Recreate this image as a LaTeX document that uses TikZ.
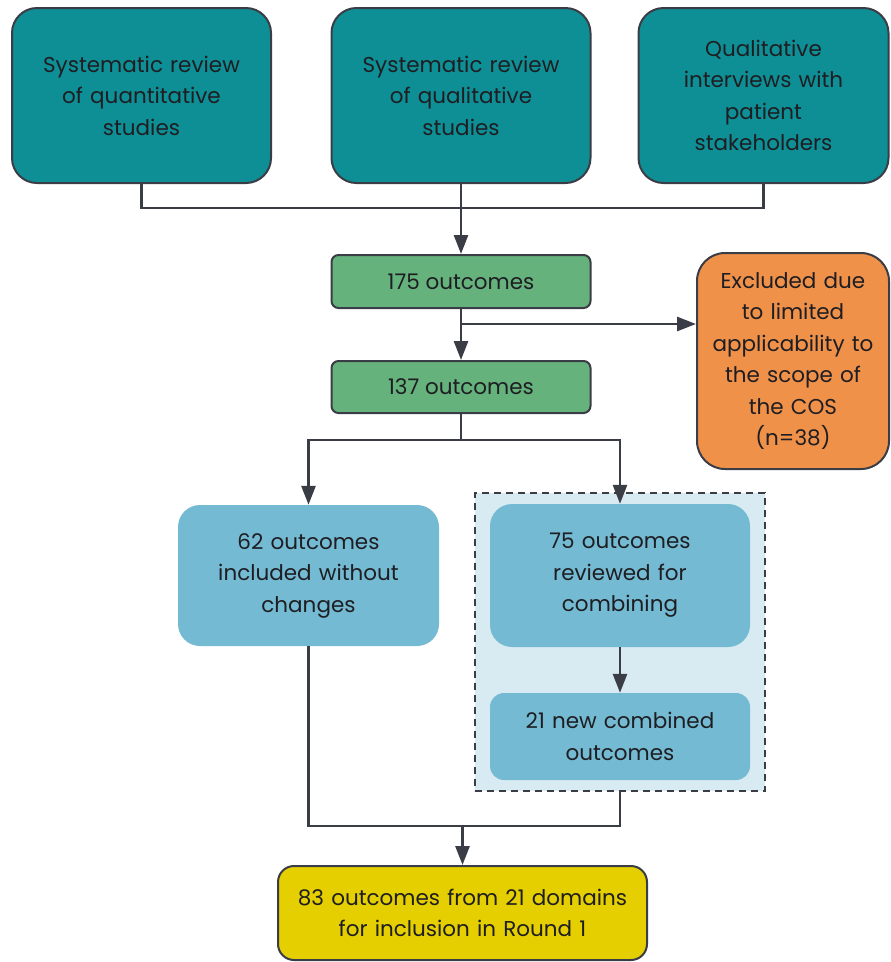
\documentclass[tikz,border=0pt]{standalone}
\usepackage{fontspec}
\setmainfont{Poppins}
\usetikzlibrary{arrows.meta}
\definecolor{edge}{HTML}{3A3D45}
\definecolor{teal}{HTML}{0E8F96}
\definecolor{leaf}{HTML}{66B27D}
\definecolor{peach}{HTML}{F0914A}
\definecolor{sky}{HTML}{74BAD3}
\definecolor{mist}{HTML}{D8EBF2}
\definecolor{gold}{HTML}{E5CF00}
\definecolor{ink}{HTML}{1E1E22}
\tikzset{
  box/.style={rectangle, align=center, inner sep=0pt, text=ink,
    font=\fontsize{21.5}{31.5}\selectfont},
  bordered/.style={box, draw=edge, line width=2pt},
  conn/.style={draw=edge, line width=2.8pt},
  arr/.style={conn, -{Triangle[length=19pt,width=14pt]}},
}
\begin{document}
\begin{tikzpicture}[x=1pt,y=-1pt]
\useasboundingbox (0,0) rectangle (891,962);
% source boxes
\node[bordered, fill=teal, rounded corners=25pt, minimum width=259pt, minimum height=175pt, text width=245pt]
  (t1) at (141.5,95.5) {Systematic review\\of quantitative\\studies};
\node[bordered, fill=teal, rounded corners=25pt, minimum width=259pt, minimum height=175pt, text width=245pt]
  (t2) at (461,95.5) {Systematic review\\of qualitative\\studies};
\node[bordered, fill=teal, rounded corners=25pt, minimum width=250pt, minimum height=175pt, text width=235pt]
  (t3) at (763.5,95.5) {Qualitative\\interviews with\\patient\\stakeholders};
% outcome counts
\node[bordered, fill=leaf, rounded corners=7pt, minimum width=259pt, minimum height=53pt]
  (n175) at (461,281.5) {175 outcomes};
\node[bordered, fill=leaf, rounded corners=7pt, minimum width=259pt, minimum height=52pt]
  (n137) at (461,387) {137 outcomes};
\node[bordered, fill=peach, rounded corners=28pt, minimum width=192pt, minimum height=216pt, text width=185pt]
  (excl) at (793,361) {Excluded due\\to limited\\applicability to\\the scope of\\the COS\\(n=38)};
% combining group
\node[draw=edge, fill=mist, dashed, line width=1.8pt, dash pattern=on 7pt off 5pt,
  minimum width=290pt, minimum height=298pt, inner sep=0pt] (grp) at (620,642) {};
\node[box, fill=sky, rounded corners=22pt, minimum width=261pt, minimum height=141pt, text width=250pt]
  (n62) at (308.5,575.5) {62 outcomes\\included without\\changes};
\node[box, fill=sky, rounded corners=22pt, minimum width=260pt, minimum height=143pt, text width=250pt]
  (n75) at (620,575.5) {75 outcomes\\reviewed for\\combining};
\node[box, fill=sky, rounded corners=14pt, minimum width=260pt, minimum height=87pt, text width=250pt]
  (n21) at (620,736.5) {21 new combined\\outcomes};
% final set
\node[bordered, fill=gold, rounded corners=16pt, minimum width=369pt, minimum height=94pt, text width=360pt]
  (fin) at (462.5,913) {83 outcomes from 21 domains\\for inclusion in Round 1};
% connectors
\coordinate (jt) at (461,208);
\draw[conn] (t1.south) |- (jt) -| (t3.south);
\draw[arr] (t2.south) -- (n175.north);
\draw[arr] (n175.south) -- (n137.north);
\coordinate (jx) at (461,324);
\draw[arr] (jx) -- (jx -| excl.west);
\coordinate (jm) at (461,440);
\draw[conn] (n137.south) -- (jm);
\draw[arr] (jm) -| (n62.north);
\draw[arr] (jm) -| (n75.north);
\draw[arr] (n75.south) -- (n21.north);
\coordinate (jb) at (462.5,826);
\draw[conn] (n62.south) |- (jb) -| (grp.south);
\draw[arr] (jb) -- (fin.north);
\end{tikzpicture}
\end{document}
